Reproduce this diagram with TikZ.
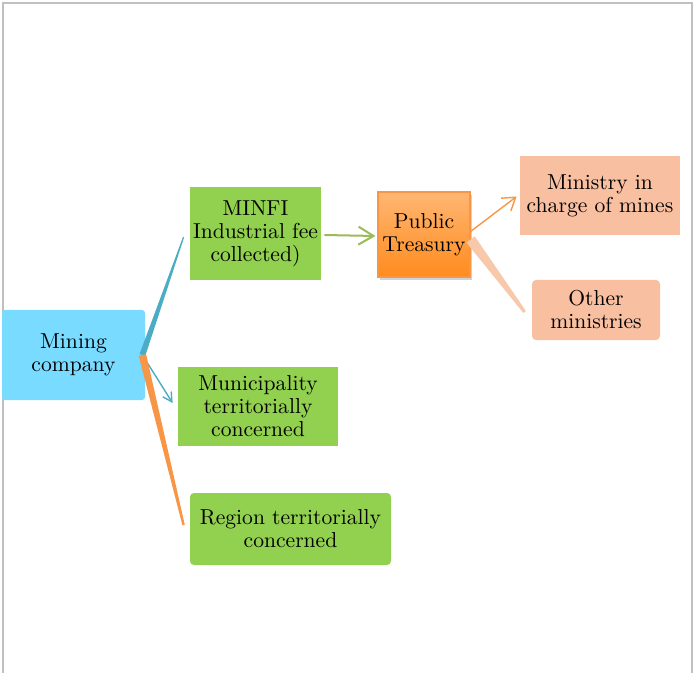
\documentclass[tikz,border=0pt]{standalone}
\usepackage{xcolor}
\usepackage{tikz}
\usetikzlibrary{arrows.meta,calc,shadows}
\definecolor{minecyan}{HTML}{79DBFF}
\definecolor{boxgreen}{HTML}{92D050}
\definecolor{boxsalmon}{HTML}{F8BFA0}
\definecolor{linkblue}{HTML}{4BACC6}
\definecolor{linkorange}{HTML}{F79646}
\definecolor{linkgreen}{HTML}{9BBB59}
\definecolor{linksalmon}{HTML}{F8C8AA}
\definecolor{framegray}{HTML}{C0C0C0}
\definecolor{treasurytop}{HTML}{FFB673}
\definecolor{treasurybottom}{HTML}{FF8C1E}
\tikzset{
  basebox/.style={align=center,inner sep=1pt,font=\fontsize{10.8}{11.5}\selectfont},
  companybox/.style={basebox,fill=minecyan,rounded corners=1.5pt},
  greenbox/.style={basebox,fill=boxgreen},
  treasurybox/.style={basebox,top color=treasurytop,bottom color=treasurybottom,
    draw=linkorange,line width=0.6pt,
    drop shadow={shadow xshift=1pt,shadow yshift=-1.5pt,fill=black!40,opacity=0.45}},
  salmonbox/.style={basebox,fill=boxsalmon},
  flowarrow/.style={-{Straight Barb[length=7.5pt,width=9pt]},line width=1pt},
  smallarrow/.style={-{Straight Barb[length=4.5pt,width=5pt]},line width=0.7pt},
  framestroke/.style={draw=framegray,line width=1pt}
}

\begin{document}
\begin{tikzpicture}[x=0.5pt,y=-0.5pt]
  \useasboundingbox (0,0) rectangle (695,673);
  \draw[framestroke] (3,673) -- (3,3) -- (692,3) -- (692,673);
  % boxes
  \node[companybox,minimum width=71.5pt,minimum height=45pt] (mining) at (73.5,355) {Mining\\company};
  \node[greenbox,minimum width=65.5pt,minimum height=46.5pt] (minfi) at (255.5,233.5) {MINFI\\Industrial fee\\collected)};
  \node[treasurybox,minimum width=46pt,minimum height=42.5pt] (treasury) at (424,234.5) {Public\\Treasury};
  \node[salmonbox,minimum width=80pt,minimum height=39.5pt] (mines) at (600,195.5) {Ministry in\\charge of mines};
  \node[salmonbox,rounded corners=2pt,minimum width=64pt,minimum height=30pt] (others) at (596,310) {Other\\ministries};
  \node[greenbox,minimum width=80pt,minimum height=39.5pt] (municipality) at (258,406.5) {Municipality\\territorially\\concerned};
  \node[greenbox,rounded corners=2pt,minimum width=100.5pt,minimum height=36pt] (region) at (290.5,529) {Region territorially\\concerned};
  % connector ends
  \coordinate (hub) at ($(mining.east)+(-3,0)$);
  \coordinate (minfitip) at ($(minfi.west)+(-6,3.5)$);
  \coordinate (munitip) at ($(municipality.west)+(-5,-3.5)$);
  \coordinate (regiontip) at ($(region.west)+(-6,-4)$);
  \coordinate (tstart) at ($(treasury.east)+(0,5)$);
  \coordinate (otherstip) at ($(others.west)+(-7,2)$);
  % connectors
  \fill[linkblue] ($(hub)!1.5pt!90:(minfitip)$) -- ($(minfitip)!0.3pt!-90:(hub)$)
    -- ($(minfitip)!0.3pt!90:(hub)$) -- ($(hub)!1.5pt!-90:(minfitip)$) -- cycle;
  \draw[smallarrow,linkblue] (hub) -- (munitip);
  \fill[linkorange] ($(hub)!1.9pt!90:(regiontip)$) -- ($(regiontip)!0.6pt!-90:(hub)$)
    -- ($(regiontip)!0.6pt!90:(hub)$) -- ($(hub)!1.9pt!-90:(regiontip)$) -- cycle;
  \draw[flowarrow,linkgreen] ($(minfi.east)+(3,1.5)$) -- ($(treasury.west)+(-2,1.5)$);
  \draw[smallarrow,linkorange,-{Straight Barb[length=6pt,width=8pt]}] ($(treasury.east)+(0,-3)$) -- ($(mines.west)+(-3,1)$);
  \fill[linksalmon] ($(tstart)!2.6pt!90:(otherstip)$) -- ($(otherstip)!0.8pt!-90:(tstart)$)
    -- ($(otherstip)!0.8pt!90:(tstart)$) -- ($(tstart)!2.6pt!-90:(otherstip)$) -- cycle;
\end{tikzpicture}
\end{document}
